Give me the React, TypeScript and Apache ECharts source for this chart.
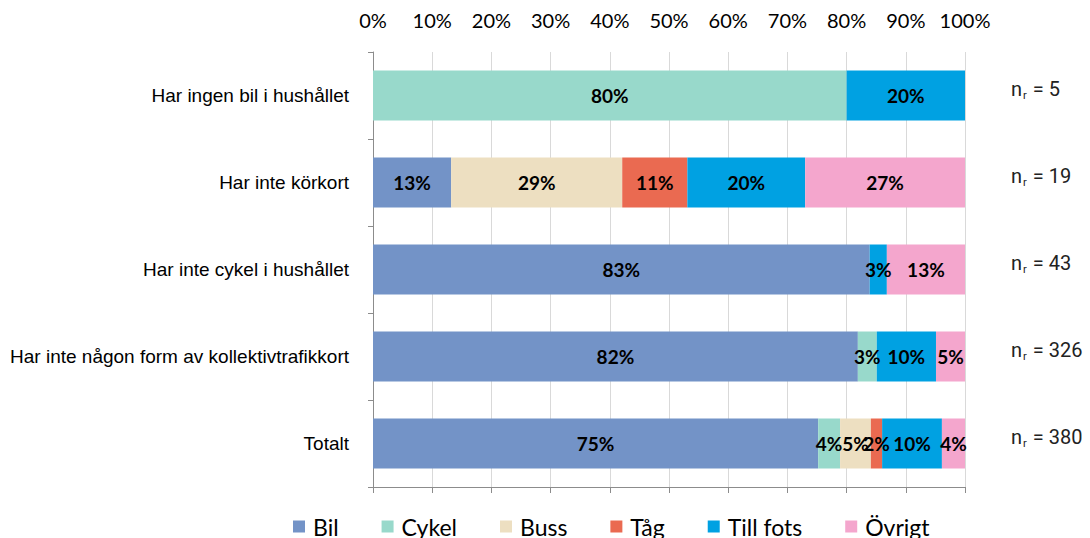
import React, { useEffect, useRef } from "react";
import * as echarts from "echarts";

const categories = [
  "Har ingen bil i hushållet",
  "Har inte körkort",
  "Har inte cykel i hushållet",
  "Har inte någon form av kollektivtrafikkort",
  "Totalt",
];
const nValues = ["5", "19", "43", "326", "380"];

const seriesNames = ["Bil", "Cykel", "Buss", "Tåg", "Till fots", "Övrigt"];
const bil = [0, 13.2, 83.9, 81.9, 75.2];
const cykel = [80, 0, 0, 3.2, 3.7];
const buss = [0, 28.9, 0, 0, 5.2];
const tag = [0, 11, 0, 0, 1.9];
const tillFots = [20, 19.9, 2.9, 10, 10.1];
const ovrigt = [0, 27, 13.2, 4.9, 3.9];

const bilLabels = ["", "13%", "83%", "82%", "75%"];
const cykelLabels = ["80%", "", "", "3%", "4%"];
const bussLabels = ["", "29%", "", "", "5%"];
const tagLabels = ["", "11%", "", "", "2%"];
const tillFotsLabels = ["20%", "20%", "3%", "10%", "10%"];
const ovrigtLabels = ["", "27%", "13%", "5%", "4%"];

const colors = ["#7393c7", "#98d9cb", "#eddfc1", "#ea6a51", "#00a1e2", "#f4a6cd"];

const seriesValues = [bil, cykel, buss, tag, tillFots, ovrigt];
const seriesLabels = [bilLabels, cykelLabels, bussLabels, tagLabels, tillFotsLabels, ovrigtLabels];

export default function App() {
  const ref = useRef<HTMLDivElement>(null);
  useEffect(() => {
    if (!ref.current) return;
    const chart = echarts.init(ref.current, undefined, { renderer: "svg" });
    const series = seriesNames.map((name, si) => ({
      name,
      type: "bar",
      stack: "total",
      xAxisIndex: 0,
      yAxisIndex: 0,
      barWidth: 50,
      itemStyle: { color: colors[si] },
      data: seriesValues[si].map((v) => (v > 0 ? v : null)),
      label: {
        show: true,
        position: "inside",
        color: "#000",
        fontFamily: "Lato",
        fontWeight: "bold",
        fontSize: 19,
        formatter: (p: any) => seriesLabels[si][p.dataIndex],
      },
    }));
    chart.setOption({
      animation: false,
      backgroundColor: "#fff",
      grid: { left: 373, right: 125, top: 52, bottom: 51 },
      legend: {
        data: seriesNames,
        top: 510,
        left: 288,
        icon: "rect",
        itemWidth: 12,
        itemHeight: 12,
        itemGap: 43,
        textStyle: { fontFamily: "Lato", fontSize: 23, color: "#000", padding: [0, 0, 0, 3] },
      },
      xAxis: [
        {
          type: "value",
          position: "top",
          min: 0,
          max: 100,
          interval: 10,
          axisLine: { show: false },
          axisTick: { show: false },
          axisLabel: {
            formatter: "{value}%",
            color: "#000",
            fontFamily: "Lato",
            fontSize: 20,
            margin: 22,
          },
          splitLine: { show: true, lineStyle: { color: "#d9d9d9", width: 1 } },
        },
        {
          type: "value",
          position: "bottom",
          min: 0,
          max: 100,
          interval: 10,
          axisLine: { show: true, lineStyle: { color: "#8c8c8c" } },
          axisTick: { show: true, length: 6, lineStyle: { color: "#8c8c8c" } },
          axisLabel: { show: false },
          splitLine: { show: false },
        },
      ],
      yAxis: [
        {
          type: "category",
          inverse: true,
          data: categories,
          axisLine: { show: true, lineStyle: { color: "#8c8c8c" } },
          axisTick: { show: true, length: 5, lineStyle: { color: "#8c8c8c" } },
          axisLabel: {
            color: "#000",
            fontFamily: "Liberation Sans",
            fontSize: 19,
            margin: 24,
          },
        },
        {
          type: "category",
          inverse: true,
          position: "right",
          data: categories,
          axisLine: { show: false },
          axisTick: { show: false },
          axisLabel: {
            margin: 46,
            align: "left",
            formatter: (_v: string, i: number) => `{n|n}{r|r}{n| = ${nValues[i]}}`,
            rich: {
              n: { fontFamily: "Roboto", fontSize: 20, color: "#222", lineHeight: 24 },
              r: { fontFamily: "Roboto", fontSize: 11, color: "#222", padding: [14, 1, 0, 1], lineHeight: 24 },
            },
            padding: [0, 0, 14, 0],
          },
        },
      ],
      series,
    });
    return () => chart.dispose();
  }, []);
  return (
    <div
      ref={ref}
      style={{ position: "absolute", left: 0, top: 0, width: 1090, height: 538 }}
    />
  );
}
